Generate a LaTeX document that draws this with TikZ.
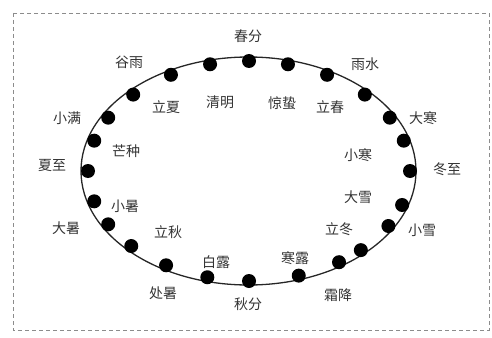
\documentclass[tikz,border=0pt]{standalone}
\usepackage{fontspec}
\newfontfamily\cjk{Noto Sans CJK SC}

\begin{document}
\begin{tikzpicture}[
  x=1pt, y=-1pt,
  term/.style={font=\cjk\fontsize{14}{15}\selectfont, text=black!80, inner sep=0pt},
  dot/.style={circle, fill=black, draw=none, minimum size=14pt, inner sep=0pt},
  orbit/.style={draw=black!85, line width=1.3pt},
  frame/.style={draw=black!45, line width=0.9pt, dash pattern=on 4pt off 3pt},
]
\useasboundingbox (0,0) rectangle (492,337);

% ---------------- frame and orbit ----------------
\draw[frame] (13,13) rectangle (489,330);
\draw[orbit] (248.5,171) ellipse [x radius=167.5pt, y radius=114pt];

% the 24 points on the orbit
\foreach \a [count=\i] in {0,16,29,44,61,76,90,104,119,136,151,164,
                           180,196,209,223,239,255,270,288,304,314,330,342}
  \node[dot] (d\i) at ({249+161*cos(\a)},{171-110*sin(\a)}) {};

% ---------------- outer labels ----------------
\node[term] (chunfen)    at (248,36)  {春分};
\node[term] (yushui)     at (365,64)  {雨水};
\node[term] (dahan)      at (423,118) {大寒};
\node[term] (dongzhi)    at (447,169) {冬至};
\node[term] (xiaoxue)    at (422,230) {小雪};
\node[term] (shuangjiang) at (338,295) {霜降};
\node[term] (qiufen)     at (248,304) {秋分};
\node[term] (chushu)     at (163,293) {处暑};
\node[term] (dashu)      at (66,228)  {大暑};
\node[term] (xiazhi)     at (52,166)  {夏至};
\node[term] (xiaoman)    at (67,118)  {小满};
\node[term] (guyu)       at (129,62)  {谷雨};

% ---------------- inner labels ----------------
\node[term] (qingming)   at (220,102) {清明};
\node[term] (jingzhe)    at (282,103) {惊蛰};
\node[term] (lichun)     at (330,107) {立春};
\node[term] (xiaohan)    at (358,155) {小寒};
\node[term] (daxue)      at (358,197) {大雪};
\node[term] (lidong)     at (339,229) {立冬};
\node[term] (hanlu)      at (295,258) {寒露};
\node[term] (bailu)      at (216,262) {白露};
\node[term] (liqiu)      at (168,232) {立秋};
\node[term] (xiaoshu)    at (125,206) {小暑};
\node[term] (mangzhong)  at (126,151) {芒种};
\node[term] (lixia)      at (166,107) {立夏};

\end{tikzpicture}
\end{document}
